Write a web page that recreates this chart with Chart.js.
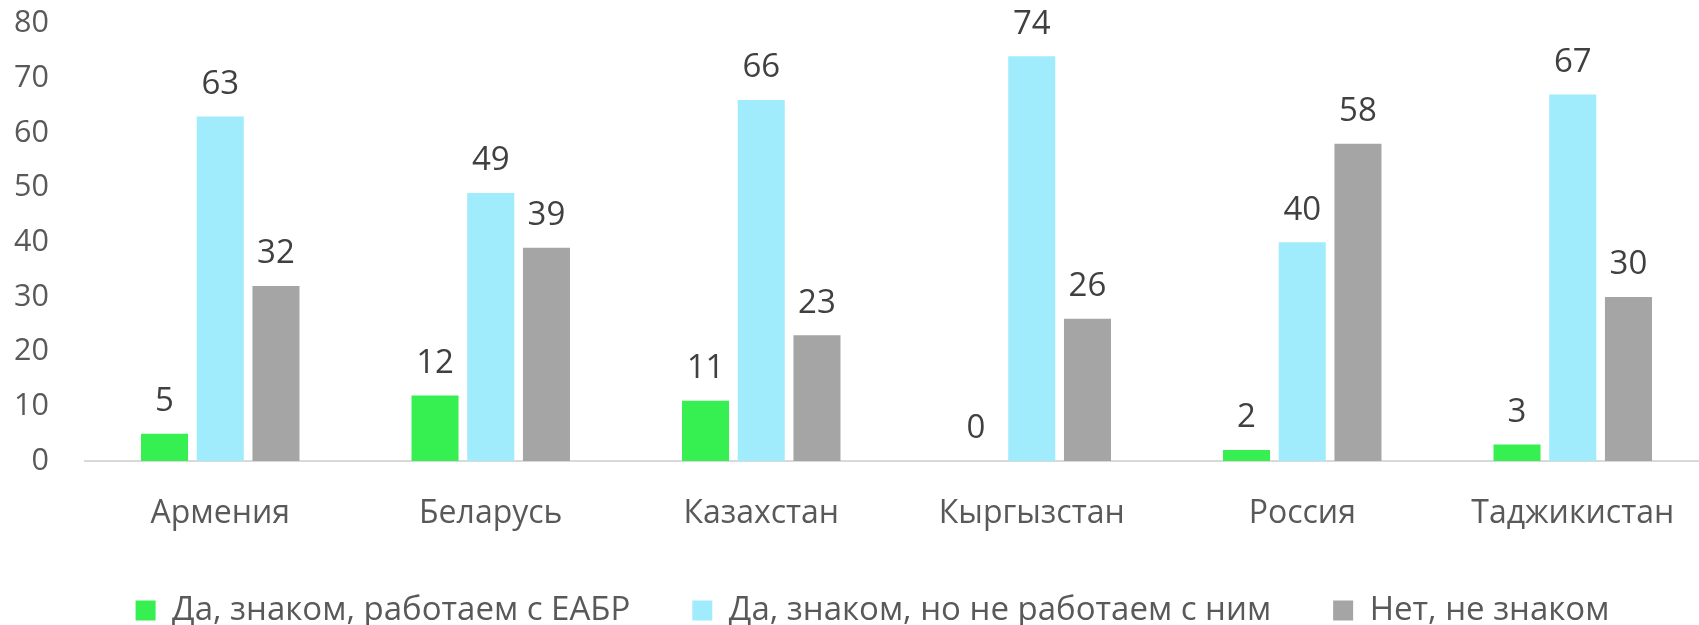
<!DOCTYPE html>
<html>
<head>
<meta charset="utf-8">
<script src="https://cdn.jsdelivr.net/npm/chart.js@4"></script>
<style>
  html, body { margin: 0; padding: 0; background: #ffffff; overflow: hidden; width: 1699px; height: 625px; }
  #wrap { position: absolute; left: 0; top: 0; }
</style>
</head>
<body>
<div id="wrap"><canvas id="c" width="1745" height="637"></canvas></div>
<script>
const categories = ["Армения", "Беларусь", "Казахстан", "Кыргызстан", "Россия", "Таджикистан"];
const seriesNames = ["Да, знаком, работаем с ЕАБР", "Да, знаком, но не работаем с ним", "Нет, не знаком"];
const workWithBank = [5, 12, 11, 0, 2, 3];
const knowNotWork = [63, 49, 66, 74, 40, 67];
const notKnow = [32, 39, 23, 26, 58, 30];
const yTicks = [0, 10, 20, 30, 40, 50, 60, 70, 80];

const FONT = "'Open Sans', 'Noto Sans', sans-serif";
const colors = ["#36F052", "#A0EBFC", "#A5A5A5"];

const valueLabels = {
  id: 'valueLabels',
  afterDatasetsDraw(chart) {
    const ctx = chart.ctx;
    ctx.save();
    ctx.font = "33px " + FONT;
    ctx.fillStyle = "#404040";
    ctx.textAlign = "center";
    ctx.textBaseline = "middle";
    chart.data.datasets.forEach((ds, i) => {
      const meta = chart.getDatasetMeta(i);
      meta.data.forEach((el, j) => {
        ctx.fillText(String(ds.data[j]), el.x, el.y - 32);
      });
    });
    ctx.restore();
  }
};

new Chart(document.getElementById('c'), {
  type: 'bar',
  data: {
    labels: categories,
    datasets: [
      { label: seriesNames[0], data: workWithBank, backgroundColor: colors[0], yAxisID: 'y' },
      { label: seriesNames[1], data: knowNotWork, backgroundColor: colors[1], yAxisID: 'y' },
      { label: seriesNames[2], data: notKnow, backgroundColor: colors[2], yAxisID: 'y' }
    ]
  },
  options: {
    responsive: false,
    animation: false,
    devicePixelRatio: 1,
    categoryPercentage: 0.618,
    barPercentage: 0.844,
    layout: { padding: { top: 23.5, left: 0, right: 0, bottom: 0 } },
    plugins: {
      legend: {
        position: 'bottom',
        labels: {
          font: { family: FONT, size: 33 },
          color: '#595959',
          boxWidth: 20,
          boxHeight: 20,
          padding: 62
        }
      },
      tooltip: { enabled: false }
    },
    scales: {
      x: {
        grid: { display: false, drawTicks: false },
        border: { display: true, color: '#D9D9D9', width: 2 },
        ticks: { font: { family: FONT, size: 32 }, color: '#595959', padding: 33.5 },
        afterFit(scale) { scale.height = 71; }
      },
      y: {
        min: 0, max: 80,
        afterBuildTicks(scale) { scale.ticks = yTicks.map(v => ({ value: v })); },
        grid: { display: false, drawTicks: false },
        border: { display: false },
        ticks: { font: { family: FONT, size: 30.5 }, color: '#595959', padding: 36 },
        afterFit(scale) { scale.width = 85; scale.paddingTop = 0; scale.paddingBottom = 0; }
      },
      y2: {
        type: 'linear',
        position: 'right',
        display: true,
        grid: { display: false, drawTicks: false },
        border: { display: false },
        ticks: { display: false },
        afterFit(scale) { scale.width = 37; }
      }
    }
  },
  plugins: [valueLabels]
});
</script>
</body>
</html>
